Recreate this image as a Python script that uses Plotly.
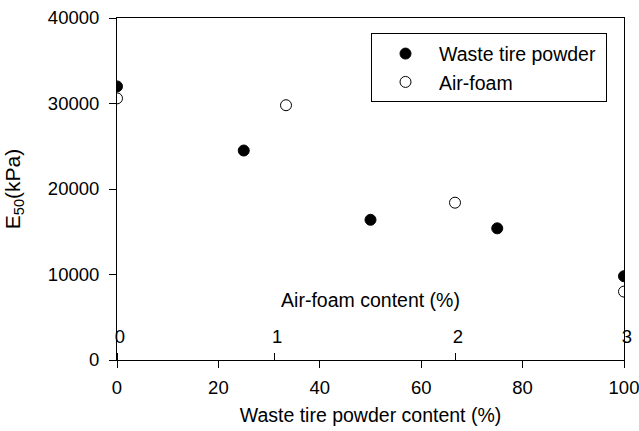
import plotly.graph_objects as go

# Data
wtp_content = [0, 25, 50, 75, 100]
wtp_e50 = [32000, 24500, 16400, 15400, 9800]
af_content = [0, 1, 2, 3]
af_e50 = [30600, 29800, 18400, 8000]

x_ticks = [0, 20, 40, 60, 80, 100]
y_ticks = [0, 10000, 20000, 30000, 40000]
y_ticktext = ["0", "10000", "20000", "30000", "40000"]
af_tickvals = [0, 0.93, 2, 3]
af_ticktext = ["0", "1", "2", "3"]

FONT = "Liberation Sans, Arial, sans-serif"
TICK = 18.5
TXT = 19.5

fig = go.Figure()
fig.add_trace(go.Scatter(
    x=wtp_content, y=wtp_e50, mode="markers", name="Waste tire powder\u00a0",
    marker=dict(symbol="circle", size=11, color="black", line=dict(color="black", width=1)),
    xaxis="x", yaxis="y"))
fig.add_trace(go.Scatter(
    x=af_content, y=af_e50, mode="markers", name="Air-foam",
    marker=dict(symbol="circle", size=11, color="white", line=dict(color="black", width=1)),
    xaxis="x2", yaxis="y"))

fig.update_layout(
    width=639, height=431,
    margin=dict(l=117, r=15, t=18, b=71, autoexpand=False),
    paper_bgcolor="white", plot_bgcolor="white",
    font=dict(family=FONT, size=TXT, color="black"),
    showlegend=True,
    legend=dict(
        x=0.501, y=0.955, xanchor="left", yanchor="top",
        bordercolor="black", borderwidth=1, bgcolor="white",
        font=dict(size=TXT), itemwidth=57, tracegroupgap=0,
    ),
    xaxis=dict(
        range=[0, 100], tickvals=x_ticks, ticks="outside", ticklen=7,
        tickcolor="black", showline=True, linecolor="black", linewidth=1,
        mirror=True, showgrid=False, zeroline=False, automargin=False,
        ticklabeloverflow="allow",
        title=dict(text="Waste tire powder content (%)", standoff=11, font=dict(size=TXT)),
        tickfont=dict(size=TICK), ticklabelstandoff=4,
    ),
    xaxis2=dict(
        range=[0, 3], overlaying="x", anchor="free", position=0, side="top",
        tickvals=af_tickvals, ticktext=af_ticktext, ticks="outside", ticklen=7,
        tickcolor="black", showline=False, showgrid=False, zeroline=False,
        automargin=False, ticklabelstandoff=3, ticklabeloverflow="allow",
        ticklabelshift=3,
        title=dict(text="Air-foam content (%)", standoff=11, font=dict(size=TXT)),
        tickfont=dict(size=TICK),
    ),
    yaxis=dict(
        range=[0, 40000], tickvals=y_ticks, ticktext=y_ticktext, ticks="outside", ticklen=7,
        tickcolor="black", showline=True, linecolor="black", linewidth=1,
        mirror=True, showgrid=False, zeroline=False, automargin=False,
        ticklabelstandoff=6,
        title=dict(text="E<sub>50</sub>(kPa)", standoff=21, font=dict(size=21)),
        tickfont=dict(size=TICK),
    ),
)

fig.write_html("out.html")
